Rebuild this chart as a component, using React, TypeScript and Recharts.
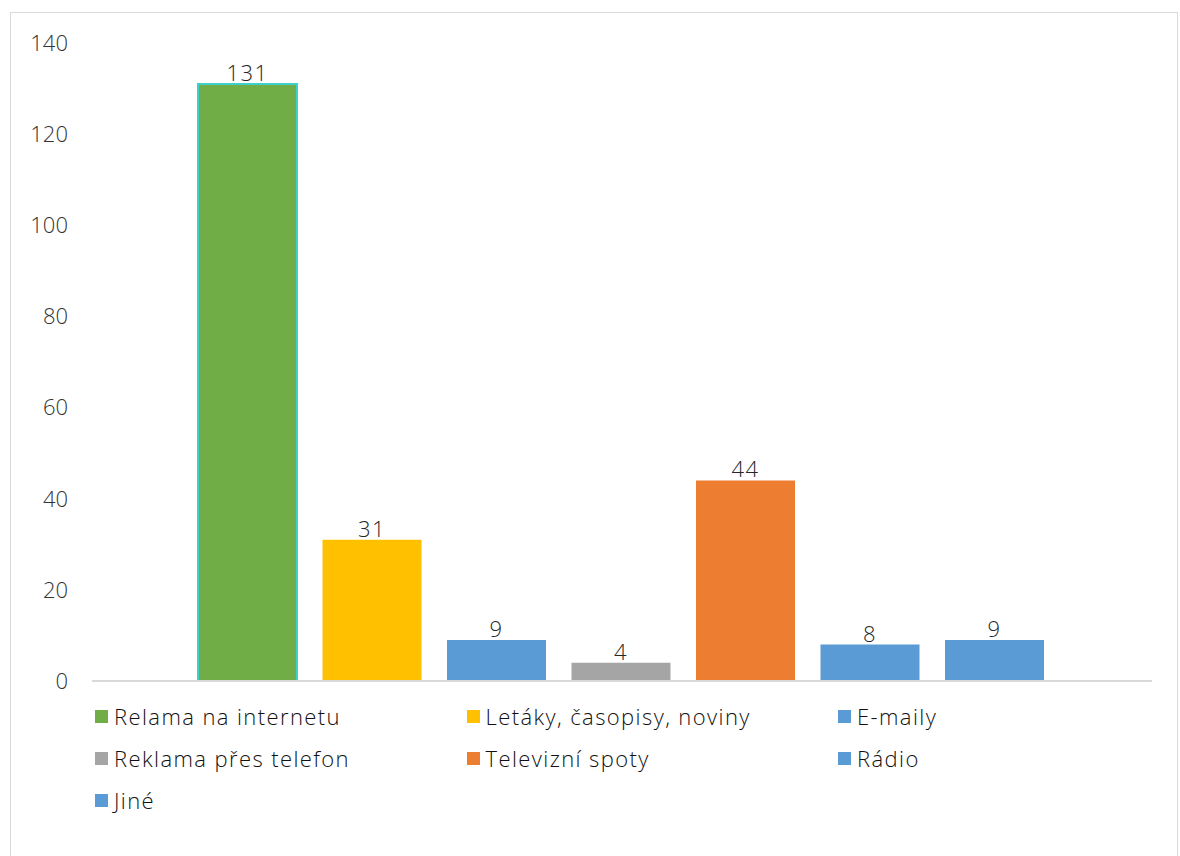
import { BarChart, Bar, XAxis, YAxis, LabelList, ReferenceLine } from "recharts";

const seriesNames = [
  "Relama na internetu",
  "Letáky, časopisy, noviny",
  "E-maily",
  "Reklama přes telefon",
  "Televizní spoty",
  "Rádio",
  "Jiné",
];
const seriesValues = [131, 31, 9, 4, 44, 8, 9];
const seriesColors = ["#70ad47", "#ffc000", "#5b9bd5", "#a5a5a5", "#ed7d31", "#5b9bd5", "#5b9bd5"];
const yTicks = [0, 20, 40, 60, 80, 100, 120, 140];

const keys = seriesNames.map((_, i) => `s${i}`);
const row: Record<string, number | string> = { name: "" };
keys.forEach((k, i) => {
  row[k] = seriesValues[i];
});
const data = [row];

const font = "'Open Sans', 'Noto Sans', sans-serif";

export default function App() {
  return (
    <div
      style={{
        position: "absolute",
        left: 0,
        top: 0,
        width: 1180,
        height: 856,
        background: "#fff",
        overflow: "hidden",
        fontFamily: font,
      }}
    >
      <div
        style={{
          position: "absolute",
          left: 10,
          top: 12,
          width: 1166,
          height: 900,
          border: "1px solid #d9d9d9",
        }}
      />
      <div style={{ position: "absolute", left: 0, top: 0 }}>
        <BarChart
          width={1180}
          height={856}
          data={data}
          margin={{ top: 43, right: 28, left: 32, bottom: 174 }}
          barCategoryGap={106}
          barGap={25.5}
        >
          <XAxis dataKey="name" height={1} tick={false} tickLine={false} axisLine={false} />
          <YAxis
            width={60}
            domain={[0, 140]}
            ticks={yTicks}
            axisLine={false}
            tickLine={false}
            tickSize={0}
            tickMargin={24}
            tick={{ fill: "#333333", fontSize: 22, fontWeight: 300, fontFamily: font }}
          />
          {keys.map((k, i) => (
            <Bar
              key={k}
              dataKey={k}
              name={seriesNames[i]}
              fill={seriesColors[i]}
              stroke={i === 0 ? "#3ed1cc" : undefined}
              strokeWidth={i === 0 ? 2 : 0}
              isAnimationActive={false}
            >
              <LabelList
                dataKey={k}
                position="top"
                offset={3}
                fill="#262626"
                fontSize={22}
                fontWeight={300}
                fontFamily={font}
                letterSpacing={1.5}
              />
            </Bar>
          ))}
          <ReferenceLine y={0} stroke="#d9d9d9" strokeWidth={2} />
        </BarChart>
      </div>
      {seriesNames.map((n, i) => (
        <div
          key={n}
          style={{
            position: "absolute",
            left: 95 + (i % 3) * 371.5,
            top: 702 + Math.floor(i / 3) * 42,
            display: "flex",
            alignItems: "center",
            height: 28,
          }}
        >
          <div style={{ width: 13, height: 13, background: seriesColors[i], marginRight: 6 }} />
          <span
            style={{
              fontSize: 22,
              fontWeight: 300,
              color: "#111111",
              letterSpacing: 1.4,
              whiteSpace: "nowrap",
            }}
          >
            {n}
          </span>
        </div>
      ))}
    </div>
  );
}
